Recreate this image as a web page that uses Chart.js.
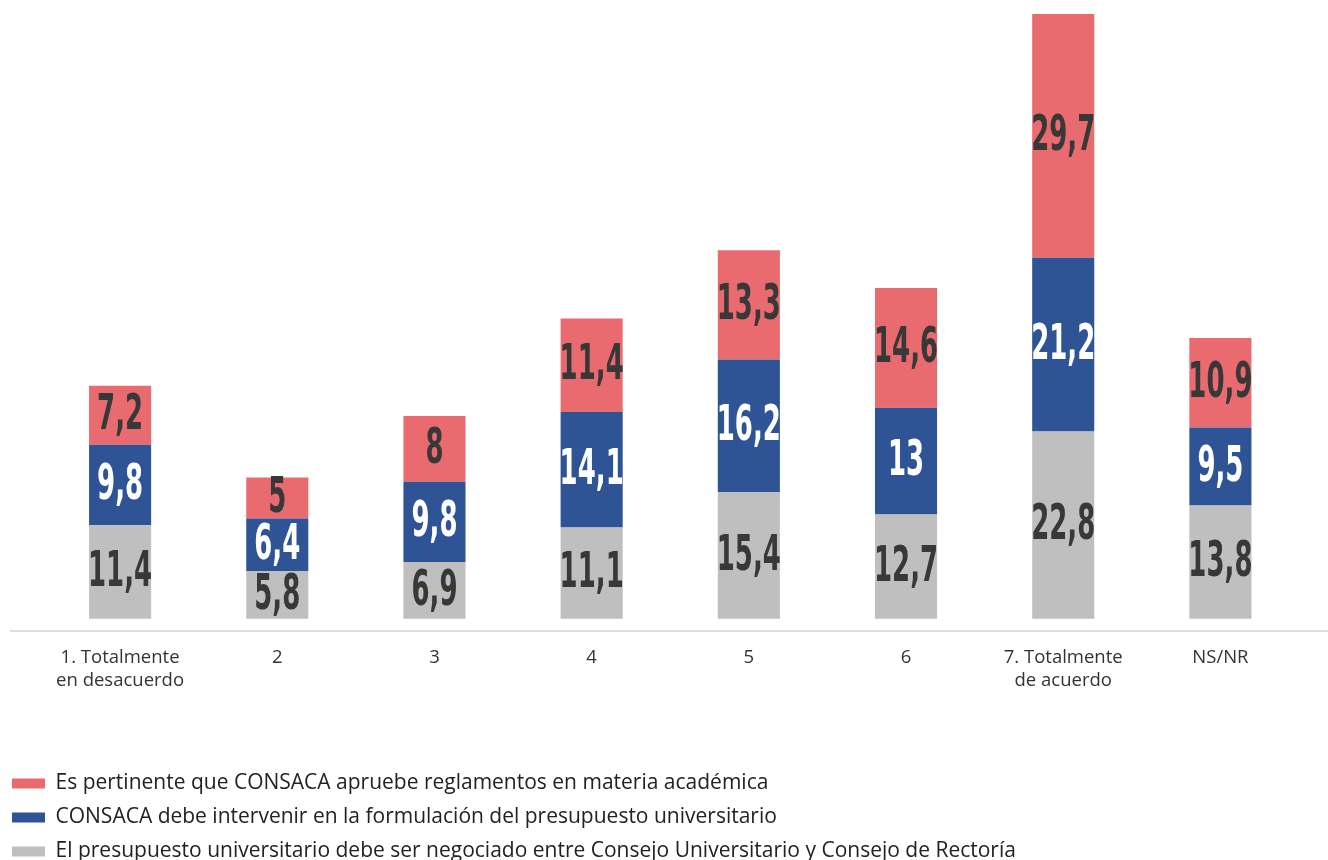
<!DOCTYPE html>
<html>
<head>
<meta charset="utf-8">
<script src="https://cdn.jsdelivr.net/npm/chart.js@4.4.1/dist/chart.umd.min.js"></script>
<style>
  html, body { margin: 0; padding: 0; background: #fff; }
  #wrap { width: 1328px; height: 860px; }
</style>
</head>
<body>
<div id="wrap"><canvas id="chart"></canvas></div>
<script>
// categories (multi-line labels)
const categories = [
  ["1. Totalmente", "en desacuerdo"], "2", "3", "4", "5", "6",
  ["7. Totalmente", "de acuerdo"], "NS/NR"
];

// series, bottom to top
const presupuestoNegociado = [11.4, 5.8, 6.9, 11.1, 15.4, 12.7, 22.8, 13.8];
const intervenirPresupuesto = [9.8, 6.4, 9.8, 14.1, 16.2, 13, 21.2, 9.5];
const apruebeReglamentos = [7.2, 5, 8, 11.4, 13.3, 14.6, 29.7, 10.9];

const seriesNames = [
  "El presupuesto universitario debe ser negociado entre Consejo Universitario y Consejo de Rectoría",
  "CONSACA debe intervenir en la formulación del presupuesto universitario",
  "Es pertinente que CONSACA apruebe reglamentos en materia académica"
];

// draws the value in the middle of each segment (narrow, tall digits)
const segmentLabels = {
  id: "segmentLabels",
  afterDatasetsDraw(chart) {
    const ctx = chart.ctx;
    chart.data.datasets.forEach((ds, i) => {
      const meta = chart.getDatasetMeta(i);
      meta.data.forEach((bar, j) => {
        const v = ds.data[j];
        const cy = (bar.y + bar.base) / 2;
        ctx.save();
        ctx.translate(bar.x, cy);
        ctx.scale(0.76, 1.3);
        ctx.font = "bold 38px 'DejaVu Sans Condensed', 'DejaVu Sans', sans-serif";
        ctx.textAlign = "center";
        ctx.textBaseline = "middle";
        ctx.fillStyle = ds.labelColor;
        ctx.fillText(String(v).replace(".", ","), 0, 1);
        ctx.restore();
      });
    });
  }
};

// thin baseline that runs almost across the whole picture
const baseLine = {
  id: "baseLine",
  afterDraw(chart) {
    const ctx = chart.ctx;
    const y = chart.chartArea.bottom;
    ctx.save();
    ctx.strokeStyle = "#d3d3d3";
    ctx.lineWidth = 1.5;
    ctx.beginPath();
    ctx.moveTo(10, y);
    ctx.lineTo(chart.width, y);
    ctx.stroke();
    ctx.restore();
  }
};

const ctx = document.getElementById("chart").getContext("2d");
new Chart(ctx, {
  type: "bar",
  data: {
    labels: categories,
    datasets: [
      { label: seriesNames[0], data: presupuestoNegociado, backgroundColor: "#bfbfbf", labelColor: "#383838" },
      { label: seriesNames[1], data: intervenirPresupuesto, backgroundColor: "#2e5496", labelColor: "#ffffff" },
      { label: seriesNames[2], data: apruebeReglamentos, backgroundColor: "#ea6b6f", labelColor: "#383838" }
    ]
  },
  options: {
    responsive: true,
    maintainAspectRatio: false,
    animation: false,
    layout: { padding: { top: 14, left: -1, right: 29, bottom: -12 } },
    datasets: {
      bar: { categoryPercentage: 1, barPercentage: 0.395, borderWidth: 0 }
    },
    plugins: {
      tooltip: { enabled: false },
      legend: {
        position: "bottom",
        align: "start",
        reverse: true,
        labels: {
          boxWidth: 33,
          boxHeight: 10,
          padding: 13,
          color: "#222",
          font: { family: "'Open Sans', sans-serif", size: 21 }
        }
      }
    },
    scales: {
      x: {
        stacked: true,
        grid: { display: false, drawTicks: false },
        border: { display: false },
        ticks: {
          color: "#333",
          padding: 15,
          maxRotation: 0,
          autoSkip: false,
          font: { family: "'Open Sans', sans-serif", size: 18.5, lineHeight: 1.24 }
        },
        afterFit(scale) { scale.height = 129; }
      },
      y: {
        stacked: true,
        min: -1.5,
        max: 73.7,
        grid: { display: false, drawTicks: false },
        border: { display: false },
        ticks: { display: false },
        afterFit(scale) { scale.width = 42.5; }
      }
    }
  },
  plugins: [segmentLabels, baseLine]
});
</script>
</body>
</html>
